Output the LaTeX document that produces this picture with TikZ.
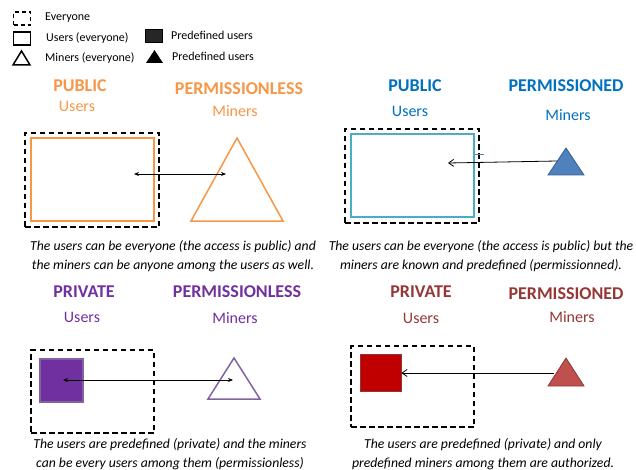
\documentclass[tikz,border=0pt]{standalone}
\usepackage{fontspec}
\setmainfont{Carlito}
\usetikzlibrary{arrows.meta}
\definecolor{orng}{HTML}{F79646}
\definecolor{bluet}{HTML}{0070C0}
\definecolor{teal2}{HTML}{4BACC6}
\definecolor{blutri}{HTML}{4F81BD}
\definecolor{blubrd}{HTML}{385D8A}
\definecolor{purp}{HTML}{7030A0}
\definecolor{purp2}{HTML}{8064A2}
\definecolor{dred}{HTML}{953735}
\definecolor{redsq}{HTML}{C00000}
\definecolor{redtri}{HTML}{C0504D}
\definecolor{redbrd}{HTML}{8C3836}
\definecolor{legdark}{HTML}{262626}
\tikzset{
  title/.style={font=\fontsize{18}{20}\selectfont\bfseries, inner sep=0pt},
  sub/.style={font=\fontsize{16}{18}\selectfont, inner sep=0pt},
  legtxt/.style={font=\fontsize{12}{14}\selectfont, anchor=west, inner sep=0pt},
  caption/.style={font=\fontsize{13.7}{19}\selectfont\itshape, align=center, inner sep=0pt},
  everybox/.style={draw=black, dash pattern=on 5.5pt off 3.5pt, line width=1.5pt, inner sep=0pt},
  shapebox/.style={inner sep=0pt, line width=1.5pt},
  dbl/.style={{Stealth[length=5pt,width=4pt]}-{Stealth[length=5pt,width=4pt]}, line width=0.8pt},
  onearr/.style={-{Straight Barb[length=5pt,width=7pt]}, line width=0.8pt},
}
\begin{document}
\begin{tikzpicture}[x=1pt,y=-1pt]
\useasboundingbox (0,0) rectangle (636,470);
% ---------- legend ----------
\node[everybox, dash pattern=on 4pt off 3pt, minimum width=17pt, minimum height=13pt] (lg1) at (22,18.5) {};
\node[legtxt] (lt1) at (45,18) {Everyone};
\node[draw=black, line width=1.5pt, inner sep=0pt, minimum width=17pt, minimum height=13pt] (lg2) at (22,38.5) {};
\node[legtxt] (lt2) at (46,38.5) {Users (everyone)};
\draw[line width=1.5pt, line join=miter] (13,65) -- (21.5,51) -- (30,65) -- cycle;
\node[legtxt] (lt3) at (45,58) {Miners (everyone)};
\node[draw=black, fill=legdark, line width=1pt, inner sep=0pt, minimum width=17pt, minimum height=13pt] (lg4) at (154,36.5) {};
\node[legtxt] (lt4) at (171,35) {Predefined users};
\fill[black] (146,63) -- (154.5,50) -- (163,63) -- cycle;
\node[legtxt] (lt5) at (172,56) {Predefined users};

% ---------- panel 1 ----------
\node[title, text=orng] (t1) at (80,86) {PUBLIC};
\node[sub, text=orng] (s1) at (77,106) {Users};
\node[title, text=orng] (t1b) at (239,89) {PERMISSIONLESS};
\node[sub, text=orng] (s1b) at (235,111) {Miners};
\node[everybox, minimum width=134pt, minimum height=94pt] (e1) at (92,180) {};
\node[shapebox, draw=orng, minimum width=123pt, minimum height=83pt] (u1) at (92.5,179.5) {};
\draw[draw=orng, line width=1.5pt, line join=miter] (191,221) -- (237,138) -- (283,221) -- cycle;
\coordinate (a1) at (134,174);
\coordinate (m1) at (226,174);
\draw[dbl] (a1) -- (m1);
\node[caption] (c1) at (173,256.5) {The users can be everyone (the access is public) and\\the miners can be anyone among the users as well.};

% ---------- panel 2 ----------
\node[title, text=bluet] (t2) at (415,86) {PUBLIC};
\node[sub, text=bluet] (s2) at (410,111) {Users};
\node[title, text=bluet] (t2b) at (566,86) {PERMISSIONED};
\node[sub, text=bluet] (s2b) at (568,115) {Miners};
\node[everybox, minimum width=134pt, minimum height=94pt] (e2) at (412,176) {};
\node[shapebox, draw=teal2, minimum width=123pt, minimum height=83pt] (u2) at (412.5,175.5) {};
\draw[draw=blutri, line width=0.8pt] (u2.east |- 0,154) -- +(9,0);
\draw[draw=blubrd, fill=blutri, line width=0.8pt, line join=miter] (548,175) -- (566,148) -- (584,175) -- cycle;
\coordinate (m2) at (557,161);
\coordinate (a2) at (448,163);
\draw[onearr] (m2) -- (a2);
\node[caption] (c2) at (481,256.5) {The users can be everyone (the access is public) but the\\miners are known and predefined (permissionned).};

% ---------- panel 3 ----------
\node[title, text=purp] (t3) at (84,292) {PRIVATE};
\node[sub, text=purp] (s3) at (82,317) {Users};
\node[title, text=purp] (t3b) at (237,292) {PERMISSIONLESS};
\node[sub, text=purp] (s3b) at (235,318) {Miners};
\node[everybox, minimum width=123pt, minimum height=83pt] (e3) at (92.5,391.5) {};
\node[shapebox, draw=purp2, fill=purp, minimum width=43pt, minimum height=43pt] (u3) at (61.5,380.5) {};
\draw[draw=purp2, line width=1.5pt, line join=miter] (208,399) -- (234,358) -- (260,399) -- cycle;
\coordinate (a3) at (63,380);
\coordinate (m3) at (233,380);
\draw[dbl] (a3) -- (m3);
\node[caption] (c3) at (170,454) {The users are predefined (private) and the miners\\can be every users among them (permissionless)};

% ---------- panel 4 ----------
\node[title, text=dred] (t4) at (421,292) {PRIVATE};
\node[sub, text=dred] (s4) at (421,318) {Users};
\node[title, text=dred] (t4b) at (566,294) {PERMISSIONED};
\node[sub, text=dred] (s4b) at (572,317) {Miners};
\node[everybox, minimum width=123pt, minimum height=81pt] (e4) at (412.5,386.5) {};
\node[shapebox, draw=redbrd, fill=redsq, line width=0.8pt, minimum width=41pt, minimum height=37pt] (u4) at (380.5,372.5) {};
\draw[draw=redbrd, fill=redtri, line width=0.8pt, line join=miter] (548,386) -- (566,358) -- (584,386) -- cycle;
\coordinate (m4) at (554,373);
\draw[onearr] (m4) -- (u4.east |- m4);
\node[caption] (c4) at (483,454) {The users are predefined (private) and only\\predefined miners among them are authorized.};
\end{tikzpicture}
\end{document}
